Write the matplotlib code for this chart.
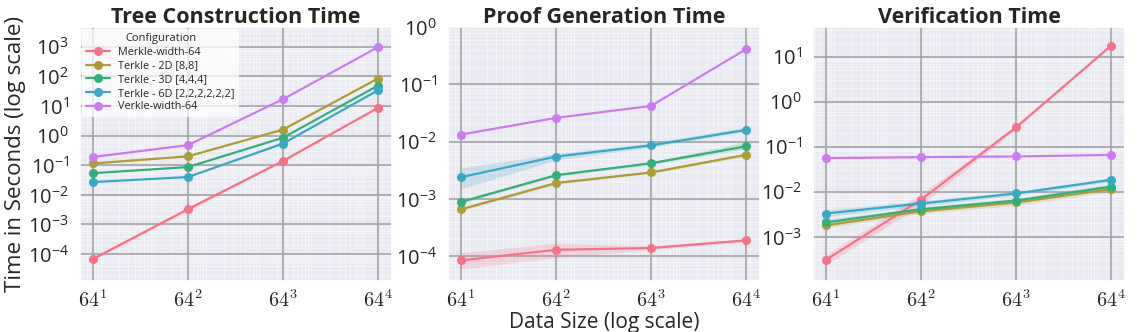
import numpy as np
import matplotlib
matplotlib.use("Agg")
import matplotlib.pyplot as plt
from matplotlib.ticker import LogLocator
import seaborn as sns

sns.set_theme(style="darkgrid")
plt.rcParams['font.family'] = ['Open Sans', 'DejaVu Sans']
plt.rcParams['mathtext.fontset'] = 'cm'

sizes = [64, 64**2, 64**3, 64**4]
size_labels = ['$64^1$', '$64^2$', '$64^3$', '$64^4$']
configs = ['Merkle-width-64', 'Terkle - 2D [8,8]', 'Terkle - 3D [4,4,4]',
           'Terkle - 6D [2,2,2,2,2,2]', 'Verkle-width-64']

# tree construction (seconds)
build_merkle = [6.8e-5, 3.3e-3, 0.14, 8.7]
build_2d = [0.115, 0.20, 1.6, 85]
build_3d = [0.054, 0.087, 0.85, 49]
build_6d = [0.027, 0.040, 0.54, 34]
build_verkle = [0.19, 0.48, 17, 980]

# proof generation
proof_merkle = [8.5e-5, 1.3e-4, 1.4e-4, 1.9e-4]
proof_2d = [6.6e-4, 1.9e-3, 2.9e-3, 5.9e-3]
proof_3d = [8.9e-4, 2.6e-3, 4.2e-3, 8.3e-3]
proof_6d = [2.4e-3, 5.5e-3, 8.6e-3, 1.6e-2]
proof_verkle = [0.0133, 0.026, 0.042, 0.41]

# verification
verify_merkle = [3.1e-4, 6.7e-3, 0.27, 17.5]
verify_2d = [1.8e-3, 3.7e-3, 5.8e-3, 1.15e-2]
verify_3d = [2.1e-3, 4.1e-3, 6.4e-3, 1.3e-2]
verify_6d = [3.3e-3, 5.5e-3, 9.2e-3, 1.85e-2]
verify_verkle = [0.056, 0.059, 0.061, 0.066]

# confidence bands (lower, upper)
build_merkle_ci = ([6.4e-5, 2.9e-3, 0.13, 8.3], [7.2e-5, 3.8e-3, 0.15, 9.1])
proof_merkle_ci = ([6.0e-5, 9.5e-5, 1.3e-4, 1.8e-4], [1.15e-4, 1.7e-4, 1.5e-4, 2.0e-4])
proof_2d_ci = ([6.2e-4, 1.8e-3, 2.8e-3, 5.5e-3], [7.0e-4, 2.0e-3, 3.0e-3, 6.4e-3])
proof_3d_ci = ([8.4e-4, 2.5e-3, 4.0e-3, 7.5e-3], [9.4e-4, 2.8e-3, 4.4e-3, 1.0e-2])
proof_6d_ci = ([1.5e-3, 4.8e-3, 8.0e-3, 1.5e-2], [3.5e-3, 6.2e-3, 9.5e-3, 1.8e-2])
verify_merkle_ci = ([2.4e-4, 5.0e-3, 0.25, 17], [4.0e-4, 9.0e-3, 0.29, 18])
verify_2d_ci = ([1.6e-3, 3.3e-3, 5.0e-3, 1.0e-2], [2.0e-3, 4.2e-3, 6.6e-3, 1.35e-2])
verify_3d_ci = ([1.8e-3, 3.6e-3, 5.6e-3, 1.15e-2], [2.4e-3, 4.6e-3, 7.2e-3, 1.5e-2])
verify_6d_ci = ([2.8e-3, 4.8e-3, 8.3e-3, 1.7e-2], [4.0e-3, 6.3e-3, 1.02e-2, 2.0e-2])

panels = [
    ("Tree Construction Time",
     [build_merkle, build_2d, build_3d, build_6d, build_verkle],
     [build_merkle_ci, None, None, None, None], (10**-4.91, 10**3.67)),
    ("Proof Generation Time",
     [proof_merkle, proof_2d, proof_3d, proof_6d, proof_verkle],
     [proof_merkle_ci, proof_2d_ci, proof_3d_ci, proof_6d_ci, None], (10**-4.43, 10**0.0)),
    ("Verification Time",
     [verify_merkle, verify_2d, verify_3d, verify_6d, verify_verkle],
     [verify_merkle_ci, verify_2d_ci, verify_3d_ci, verify_6d_ci, None], (10**-3.98, 10**1.66)),
]

colors = sns.color_palette("husl", 5)
grid_gray = '#a3a3a7'

fig = plt.figure(figsize=(11.48, 3.32), dpi=100)
lefts = [80, 448, 813]
axes = []
for i, (title, series, cis, ylim) in enumerate(panels):
    ax = fig.add_axes([lefts[i] / 1148, 51 / 332, 312 / 1148, 254 / 332])
    axes.append(ax)
    ax.set_xscale('log')
    ax.set_yscale('log')
    for name, vals, ci, c in zip(configs, series, cis, colors):
        ax.plot(sizes, vals, marker='o', markersize=5.5, linewidth=1.6, color=c,
                label=name, zorder=3)
        if ci is not None:
            ax.fill_between(sizes, ci[0], ci[1], color=c, alpha=0.2, linewidth=0, zorder=2)
    ax.set_xlim(10**1.559, 10**7.491)
    ax.set_ylim(*ylim)
    ax.yaxis.set_major_locator(LogLocator(base=10, numticks=30))
    ax.yaxis.set_minor_locator(LogLocator(base=10, subs=np.arange(2, 10), numticks=100))
    ax.xaxis.set_minor_locator(LogLocator(base=10, subs=np.arange(2, 10), numticks=100))
    ax.set_xticks(sizes)
    ax.set_xticklabels(size_labels)
    ax.tick_params(axis='x', which='major', labelsize=14.5, pad=1)
    ax.tick_params(axis='y', which='major', labelsize=14.5, pad=2)
    ax.tick_params(which='minor', length=0)
    ax.grid(False, which='major')
    ax.grid(True, which='minor', color='white', linewidth=0.5, alpha=0.6)
    # solid major grid drawn on top of the fine minor lines
    for yt in ax.get_yticks():
        if ylim[0] <= yt <= ylim[1]:
            ax.axhline(yt, color=grid_gray, linewidth=1.2, zorder=1)
    for xt in sizes:
        ax.axvline(xt, color=grid_gray, linewidth=1.2, zorder=1)
    ax.set_title(title, fontsize=15.5, fontweight='bold', pad=3)

axes[0].set_ylabel('Time in Seconds (log scale)', fontsize=16, labelpad=1)
axes[1].set_xlabel('Data Size (log scale)', fontsize=15, labelpad=-0.5)
leg = axes[0].legend(title='Configuration', loc='upper left', fontsize=7.8,
                     title_fontsize=8, borderaxespad=0.15, handlelength=2.2,
                     labelspacing=0.25, borderpad=0.4, facecolor='white',
                     framealpha=0.75, edgecolor='none', fancybox=False)

fig.savefig('out.png', dpi=100)
